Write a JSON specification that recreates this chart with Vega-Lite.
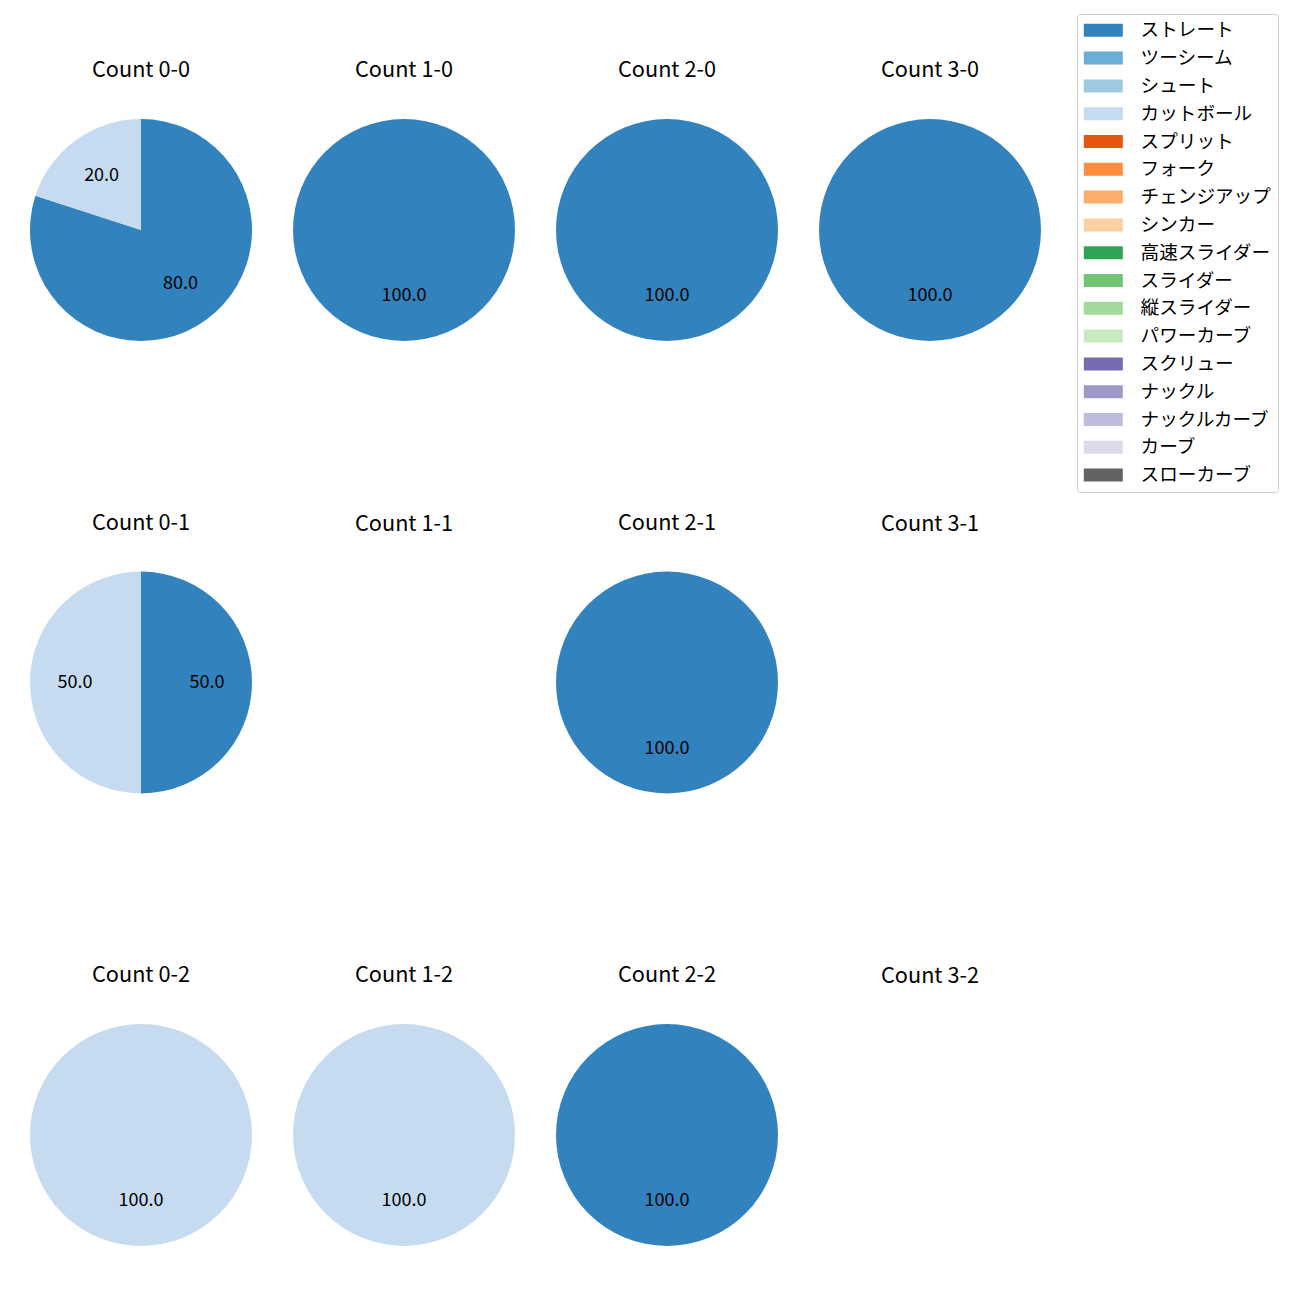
{
  "$schema": "https://vega.github.io/schema/vega-lite/v6.json",
  "padding": {"left": 30, "top": 13, "right": 5, "bottom": 5},
  "background": "white",
  "config": {
    "view": {"stroke": null},
    "font": "Noto Sans CJK JP",
    "title": {"font": "Noto Sans CJK JP", "fontSize": 21.7, "fontWeight": "normal", "color": "black", "baseline": "alphabetic", "offset": 37},
    "legend": {
      "orient": "none", "legendX": 1046, "legendY": -106,
      "title": null,
      "labelFont": "Noto Sans CJK JP", "labelFontSize": 18.6, "labelColor": "black",
      "symbolType": "M-3,-1H3V1H-3Z", "symbolSize": 169, "symbolStrokeWidth": 0, "symbolOpacity": 1,
      "symbolOffset": 10, "labelOffset": 28, "rowPadding": 8.8, "padding": 7,
      "strokeColor": "#cccccc", "fillColor": "white", "cornerRadius": 3
    }
  },
  "data": {"values": [
    {"panel": "0-0", "pitch": "ストレート", "pct": 80},
    {"panel": "0-0", "pitch": "カットボール", "pct": 20},
    {"panel": "1-0", "pitch": "ストレート", "pct": 100},
    {"panel": "2-0", "pitch": "ストレート", "pct": 100},
    {"panel": "3-0", "pitch": "ストレート", "pct": 100},
    {"panel": "0-1", "pitch": "ストレート", "pct": 50},
    {"panel": "0-1", "pitch": "カットボール", "pct": 50},
    {"panel": "2-1", "pitch": "ストレート", "pct": 100},
    {"panel": "0-2", "pitch": "カットボール", "pct": 100},
    {"panel": "1-2", "pitch": "カットボール", "pct": 100},
    {"panel": "2-2", "pitch": "ストレート", "pct": 100}
  ]},
  "columns": 4,
  "spacing": {"row": 232.5, "column": 43},
  "bounds": "flush",
  "concat": [
    {"title": "Count 0-0", "width": 220, "height": 220, "transform": [{"filter": "datum.panel === '0-0'"}],
     "encoding": {"theta": {"field": "pct", "type": "quantitative", "stack": true}, "order": {"field": "pitch", "sort": "descending"}, "detail": {"field": "pitch"}},
     "layer": [
       {"mark": {"type": "arc", "outerRadius": 111}, "encoding": {"color": {"field": "pitch", "type": "nominal", "scale": {"domain": ["ストレート","ツーシーム","シュート","カットボール","スプリット","フォーク","チェンジアップ","シンカー","高速スライダー","スライダー","縦スライダー","パワーカーブ","スクリュー","ナックル","ナックルカーブ","カーブ","スローカーブ"], "range": ["#3182bd","#6baed6","#9ecae1","#c6dbef","#e6550d","#fd8d3c","#fdae6b","#fdd0a2","#31a354","#74c476","#a1d99b","#c7e9c0","#756bb1","#9e9ac8","#bcbddc","#dadaeb","#636363"]}}}},
       {"mark": {"type": "text", "radius": 67, "fontSize": 18, "color": "black", "baseline": "middle", "align": "center"}, "encoding": {"text": {"field": "pct", "type": "quantitative", "format": ".1f"}}}
     ]},
    {"title": "Count 1-0", "width": 220, "height": 220, "transform": [{"filter": "datum.panel === '1-0'"}],
     "encoding": {"theta": {"field": "pct", "type": "quantitative", "stack": true}, "order": {"field": "pitch", "sort": "descending"}, "detail": {"field": "pitch"}},
     "layer": [
       {"mark": {"type": "arc", "outerRadius": 111}, "encoding": {"color": {"field": "pitch", "type": "nominal", "scale": {"domain": ["ストレート","ツーシーム","シュート","カットボール","スプリット","フォーク","チェンジアップ","シンカー","高速スライダー","スライダー","縦スライダー","パワーカーブ","スクリュー","ナックル","ナックルカーブ","カーブ","スローカーブ"], "range": ["#3182bd","#6baed6","#9ecae1","#c6dbef","#e6550d","#fd8d3c","#fdae6b","#fdd0a2","#31a354","#74c476","#a1d99b","#c7e9c0","#756bb1","#9e9ac8","#bcbddc","#dadaeb","#636363"]}}}},
       {"mark": {"type": "text", "radius": 66, "fontSize": 18, "color": "black", "baseline": "middle", "align": "center"}, "encoding": {"text": {"field": "pct", "type": "quantitative", "format": ".1f"}}}
     ]},
    {"title": "Count 2-0", "width": 220, "height": 220, "transform": [{"filter": "datum.panel === '2-0'"}],
     "encoding": {"theta": {"field": "pct", "type": "quantitative", "stack": true}, "order": {"field": "pitch", "sort": "descending"}, "detail": {"field": "pitch"}},
     "layer": [
       {"mark": {"type": "arc", "outerRadius": 111}, "encoding": {"color": {"field": "pitch", "type": "nominal", "scale": {"domain": ["ストレート","ツーシーム","シュート","カットボール","スプリット","フォーク","チェンジアップ","シンカー","高速スライダー","スライダー","縦スライダー","パワーカーブ","スクリュー","ナックル","ナックルカーブ","カーブ","スローカーブ"], "range": ["#3182bd","#6baed6","#9ecae1","#c6dbef","#e6550d","#fd8d3c","#fdae6b","#fdd0a2","#31a354","#74c476","#a1d99b","#c7e9c0","#756bb1","#9e9ac8","#bcbddc","#dadaeb","#636363"]}}}},
       {"mark": {"type": "text", "radius": 66, "fontSize": 18, "color": "black", "baseline": "middle", "align": "center"}, "encoding": {"text": {"field": "pct", "type": "quantitative", "format": ".1f"}}}
     ]},
    {"title": "Count 3-0", "width": 220, "height": 220, "transform": [{"filter": "datum.panel === '3-0'"}],
     "encoding": {"theta": {"field": "pct", "type": "quantitative", "stack": true}, "order": {"field": "pitch", "sort": "descending"}, "detail": {"field": "pitch"}},
     "layer": [
       {"mark": {"type": "arc", "outerRadius": 111}, "encoding": {"color": {"field": "pitch", "type": "nominal", "scale": {"domain": ["ストレート","ツーシーム","シュート","カットボール","スプリット","フォーク","チェンジアップ","シンカー","高速スライダー","スライダー","縦スライダー","パワーカーブ","スクリュー","ナックル","ナックルカーブ","カーブ","スローカーブ"], "range": ["#3182bd","#6baed6","#9ecae1","#c6dbef","#e6550d","#fd8d3c","#fdae6b","#fdd0a2","#31a354","#74c476","#a1d99b","#c7e9c0","#756bb1","#9e9ac8","#bcbddc","#dadaeb","#636363"]}}}},
       {"mark": {"type": "text", "radius": 66, "fontSize": 18, "color": "black", "baseline": "middle", "align": "center"}, "encoding": {"text": {"field": "pct", "type": "quantitative", "format": ".1f"}}}
     ]},
    {"title": "Count 0-1", "width": 220, "height": 220, "transform": [{"filter": "datum.panel === '0-1'"}],
     "encoding": {"theta": {"field": "pct", "type": "quantitative", "stack": true}, "order": {"field": "pitch", "sort": "descending"}, "detail": {"field": "pitch"}},
     "layer": [
       {"mark": {"type": "arc", "outerRadius": 111}, "encoding": {"color": {"field": "pitch", "type": "nominal", "scale": {"domain": ["ストレート","ツーシーム","シュート","カットボール","スプリット","フォーク","チェンジアップ","シンカー","高速スライダー","スライダー","縦スライダー","パワーカーブ","スクリュー","ナックル","ナックルカーブ","カーブ","スローカーブ"], "range": ["#3182bd","#6baed6","#9ecae1","#c6dbef","#e6550d","#fd8d3c","#fdae6b","#fdd0a2","#31a354","#74c476","#a1d99b","#c7e9c0","#756bb1","#9e9ac8","#bcbddc","#dadaeb","#636363"]}}}},
       {"mark": {"type": "text", "radius": 66, "fontSize": 18, "color": "black", "baseline": "middle", "align": "center"}, "encoding": {"text": {"field": "pct", "type": "quantitative", "format": ".1f"}}}
     ]},
    {"title": "Count 1-1", "width": 220, "height": 220, "transform": [{"filter": "datum.panel === '1-1'"}],
     "encoding": {"theta": {"field": "pct", "type": "quantitative", "stack": true}, "order": {"field": "pitch", "sort": "descending"}, "detail": {"field": "pitch"}},
     "layer": [
       {"mark": {"type": "arc", "outerRadius": 111}, "encoding": {"color": {"field": "pitch", "type": "nominal", "scale": {"domain": ["ストレート","ツーシーム","シュート","カットボール","スプリット","フォーク","チェンジアップ","シンカー","高速スライダー","スライダー","縦スライダー","パワーカーブ","スクリュー","ナックル","ナックルカーブ","カーブ","スローカーブ"], "range": ["#3182bd","#6baed6","#9ecae1","#c6dbef","#e6550d","#fd8d3c","#fdae6b","#fdd0a2","#31a354","#74c476","#a1d99b","#c7e9c0","#756bb1","#9e9ac8","#bcbddc","#dadaeb","#636363"]}}}},
       {"mark": {"type": "text", "radius": 66, "fontSize": 18, "color": "black", "baseline": "middle", "align": "center"}, "encoding": {"text": {"field": "pct", "type": "quantitative", "format": ".1f"}}}
     ]},
    {"title": "Count 2-1", "width": 220, "height": 220, "transform": [{"filter": "datum.panel === '2-1'"}],
     "encoding": {"theta": {"field": "pct", "type": "quantitative", "stack": true}, "order": {"field": "pitch", "sort": "descending"}, "detail": {"field": "pitch"}},
     "layer": [
       {"mark": {"type": "arc", "outerRadius": 111}, "encoding": {"color": {"field": "pitch", "type": "nominal", "scale": {"domain": ["ストレート","ツーシーム","シュート","カットボール","スプリット","フォーク","チェンジアップ","シンカー","高速スライダー","スライダー","縦スライダー","パワーカーブ","スクリュー","ナックル","ナックルカーブ","カーブ","スローカーブ"], "range": ["#3182bd","#6baed6","#9ecae1","#c6dbef","#e6550d","#fd8d3c","#fdae6b","#fdd0a2","#31a354","#74c476","#a1d99b","#c7e9c0","#756bb1","#9e9ac8","#bcbddc","#dadaeb","#636363"]}}}},
       {"mark": {"type": "text", "radius": 66, "fontSize": 18, "color": "black", "baseline": "middle", "align": "center"}, "encoding": {"text": {"field": "pct", "type": "quantitative", "format": ".1f"}}}
     ]},
    {"title": "Count 3-1", "width": 220, "height": 220, "transform": [{"filter": "datum.panel === '3-1'"}],
     "encoding": {"theta": {"field": "pct", "type": "quantitative", "stack": true}, "order": {"field": "pitch", "sort": "descending"}, "detail": {"field": "pitch"}},
     "layer": [
       {"mark": {"type": "arc", "outerRadius": 111}, "encoding": {"color": {"field": "pitch", "type": "nominal", "scale": {"domain": ["ストレート","ツーシーム","シュート","カットボール","スプリット","フォーク","チェンジアップ","シンカー","高速スライダー","スライダー","縦スライダー","パワーカーブ","スクリュー","ナックル","ナックルカーブ","カーブ","スローカーブ"], "range": ["#3182bd","#6baed6","#9ecae1","#c6dbef","#e6550d","#fd8d3c","#fdae6b","#fdd0a2","#31a354","#74c476","#a1d99b","#c7e9c0","#756bb1","#9e9ac8","#bcbddc","#dadaeb","#636363"]}}}},
       {"mark": {"type": "text", "radius": 66, "fontSize": 18, "color": "black", "baseline": "middle", "align": "center"}, "encoding": {"text": {"field": "pct", "type": "quantitative", "format": ".1f"}}}
     ]},
    {"title": "Count 0-2", "width": 220, "height": 220, "transform": [{"filter": "datum.panel === '0-2'"}],
     "encoding": {"theta": {"field": "pct", "type": "quantitative", "stack": true}, "order": {"field": "pitch", "sort": "descending"}, "detail": {"field": "pitch"}},
     "layer": [
       {"mark": {"type": "arc", "outerRadius": 111}, "encoding": {"color": {"field": "pitch", "type": "nominal", "scale": {"domain": ["ストレート","ツーシーム","シュート","カットボール","スプリット","フォーク","チェンジアップ","シンカー","高速スライダー","スライダー","縦スライダー","パワーカーブ","スクリュー","ナックル","ナックルカーブ","カーブ","スローカーブ"], "range": ["#3182bd","#6baed6","#9ecae1","#c6dbef","#e6550d","#fd8d3c","#fdae6b","#fdd0a2","#31a354","#74c476","#a1d99b","#c7e9c0","#756bb1","#9e9ac8","#bcbddc","#dadaeb","#636363"]}}}},
       {"mark": {"type": "text", "radius": 66, "fontSize": 18, "color": "black", "baseline": "middle", "align": "center"}, "encoding": {"text": {"field": "pct", "type": "quantitative", "format": ".1f"}}}
     ]},
    {"title": "Count 1-2", "width": 220, "height": 220, "transform": [{"filter": "datum.panel === '1-2'"}],
     "encoding": {"theta": {"field": "pct", "type": "quantitative", "stack": true}, "order": {"field": "pitch", "sort": "descending"}, "detail": {"field": "pitch"}},
     "layer": [
       {"mark": {"type": "arc", "outerRadius": 111}, "encoding": {"color": {"field": "pitch", "type": "nominal", "scale": {"domain": ["ストレート","ツーシーム","シュート","カットボール","スプリット","フォーク","チェンジアップ","シンカー","高速スライダー","スライダー","縦スライダー","パワーカーブ","スクリュー","ナックル","ナックルカーブ","カーブ","スローカーブ"], "range": ["#3182bd","#6baed6","#9ecae1","#c6dbef","#e6550d","#fd8d3c","#fdae6b","#fdd0a2","#31a354","#74c476","#a1d99b","#c7e9c0","#756bb1","#9e9ac8","#bcbddc","#dadaeb","#636363"]}}}},
       {"mark": {"type": "text", "radius": 66, "fontSize": 18, "color": "black", "baseline": "middle", "align": "center"}, "encoding": {"text": {"field": "pct", "type": "quantitative", "format": ".1f"}}}
     ]},
    {"title": "Count 2-2", "width": 220, "height": 220, "transform": [{"filter": "datum.panel === '2-2'"}],
     "encoding": {"theta": {"field": "pct", "type": "quantitative", "stack": true}, "order": {"field": "pitch", "sort": "descending"}, "detail": {"field": "pitch"}},
     "layer": [
       {"mark": {"type": "arc", "outerRadius": 111}, "encoding": {"color": {"field": "pitch", "type": "nominal", "scale": {"domain": ["ストレート","ツーシーム","シュート","カットボール","スプリット","フォーク","チェンジアップ","シンカー","高速スライダー","スライダー","縦スライダー","パワーカーブ","スクリュー","ナックル","ナックルカーブ","カーブ","スローカーブ"], "range": ["#3182bd","#6baed6","#9ecae1","#c6dbef","#e6550d","#fd8d3c","#fdae6b","#fdd0a2","#31a354","#74c476","#a1d99b","#c7e9c0","#756bb1","#9e9ac8","#bcbddc","#dadaeb","#636363"]}}}},
       {"mark": {"type": "text", "radius": 66, "fontSize": 18, "color": "black", "baseline": "middle", "align": "center"}, "encoding": {"text": {"field": "pct", "type": "quantitative", "format": ".1f"}}}
     ]},
    {"title": "Count 3-2", "width": 220, "height": 220, "transform": [{"filter": "datum.panel === '3-2'"}],
     "encoding": {"theta": {"field": "pct", "type": "quantitative", "stack": true}, "order": {"field": "pitch", "sort": "descending"}, "detail": {"field": "pitch"}},
     "layer": [
       {"mark": {"type": "arc", "outerRadius": 111}, "encoding": {"color": {"field": "pitch", "type": "nominal", "scale": {"domain": ["ストレート","ツーシーム","シュート","カットボール","スプリット","フォーク","チェンジアップ","シンカー","高速スライダー","スライダー","縦スライダー","パワーカーブ","スクリュー","ナックル","ナックルカーブ","カーブ","スローカーブ"], "range": ["#3182bd","#6baed6","#9ecae1","#c6dbef","#e6550d","#fd8d3c","#fdae6b","#fdd0a2","#31a354","#74c476","#a1d99b","#c7e9c0","#756bb1","#9e9ac8","#bcbddc","#dadaeb","#636363"]}}}},
       {"mark": {"type": "text", "radius": 66, "fontSize": 18, "color": "black", "baseline": "middle", "align": "center"}, "encoding": {"text": {"field": "pct", "type": "quantitative", "format": ".1f"}}}
     ]}
  ]
}
